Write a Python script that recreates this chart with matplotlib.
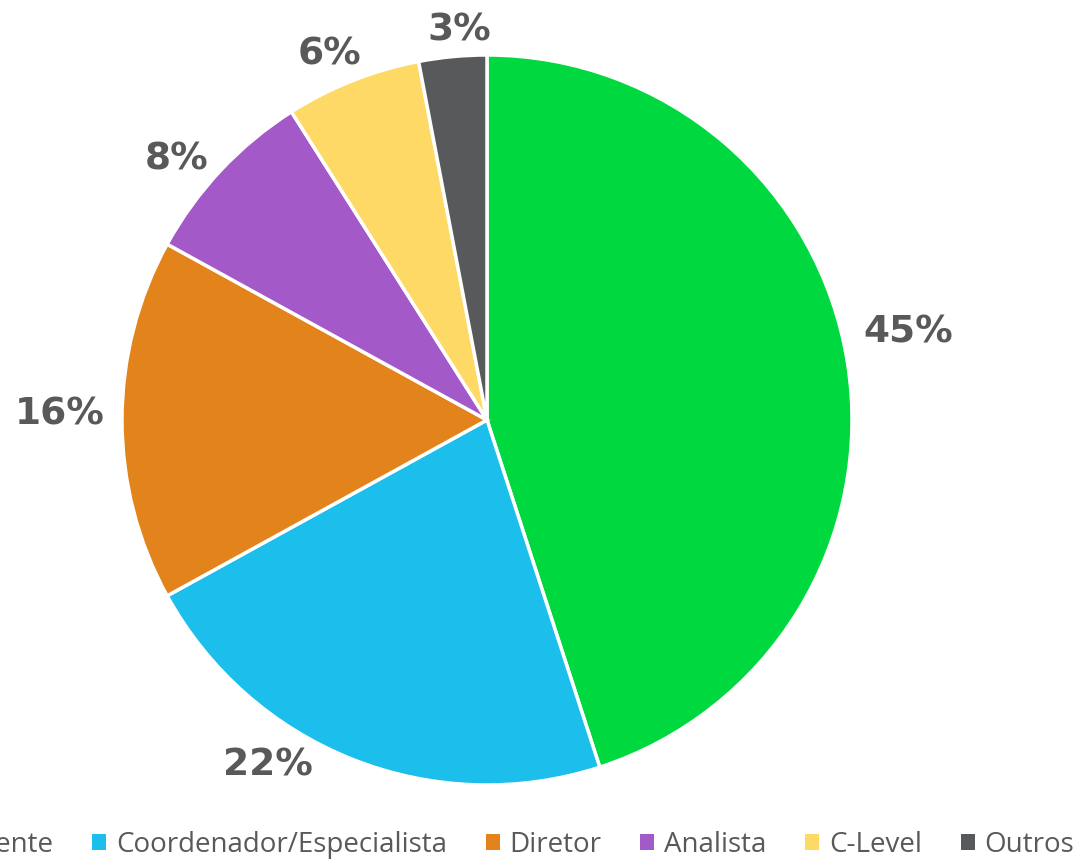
import numpy as np
import matplotlib
matplotlib.use("Agg")
import matplotlib.pyplot as plt
from matplotlib.patches import Patch

categories = ["Gerente", "Coordenador/Especialista", "Diretor", "Analista", "C-Level", "Outros"]
values = [45, 22, 16, 8, 6, 3]
labels = ["45%", "22%", "16%", "8%", "6%", "3%"]
colors = ["#00D83F", "#1CBEEB", "#E2841B", "#A459C9", "#FFD966", "#58595B"]
# label placement (radius factor, angular nudge in degrees)
label_radius = [1.178, 1.12, 1.17, 1.109, 1.089, 1.071]
label_nudge = [2.8, -10.8, -0.7, 3.2, 1.7, -1.4]

W, H = 1076, 859
fig = plt.figure(figsize=(W / 100, H / 100), dpi=100)
cx, cy, R = 487, 420, 365
ax = fig.add_axes([(cx - R) / W, (H - cy - R) / H, 2 * R / W, 2 * R / H])
wedges, _ = ax.pie(values, colors=colors, startangle=90, counterclock=False,
                   radius=1.0, wedgeprops=dict(edgecolor="white", linewidth=2.5))
ax.set_xlim(-1, 1)
ax.set_ylim(-1, 1)
ax.set_aspect("equal")
ax.axis("off")

for w, lab, r, nd in zip(wedges, labels, label_radius, label_nudge):
    ang = np.deg2rad((w.theta1 + w.theta2) / 2 + nd)
    x, y = r * np.cos(ang), r * np.sin(ang)
    ax.text(x, y, lab, ha="center", va="center", fontsize=27, fontweight="bold",
            color="#595959", family="DejaVu Sans", clip_on=False)

handles = [Patch(facecolor=c, edgecolor="none") for c in colors]
leg = fig.legend(handles, categories, loc="center", bbox_to_anchor=(499.5 / W, 1 - 845 / H),
                 ncol=6, frameon=False, handlelength=0.5, handleheight=0.5,
                 handletextpad=0.36, columnspacing=1.39,
                 prop={"family": "Open Sans", "size": 20})
for t in leg.get_texts():
    t.set_color("#595959")

fig.savefig("out.png", dpi=100)
